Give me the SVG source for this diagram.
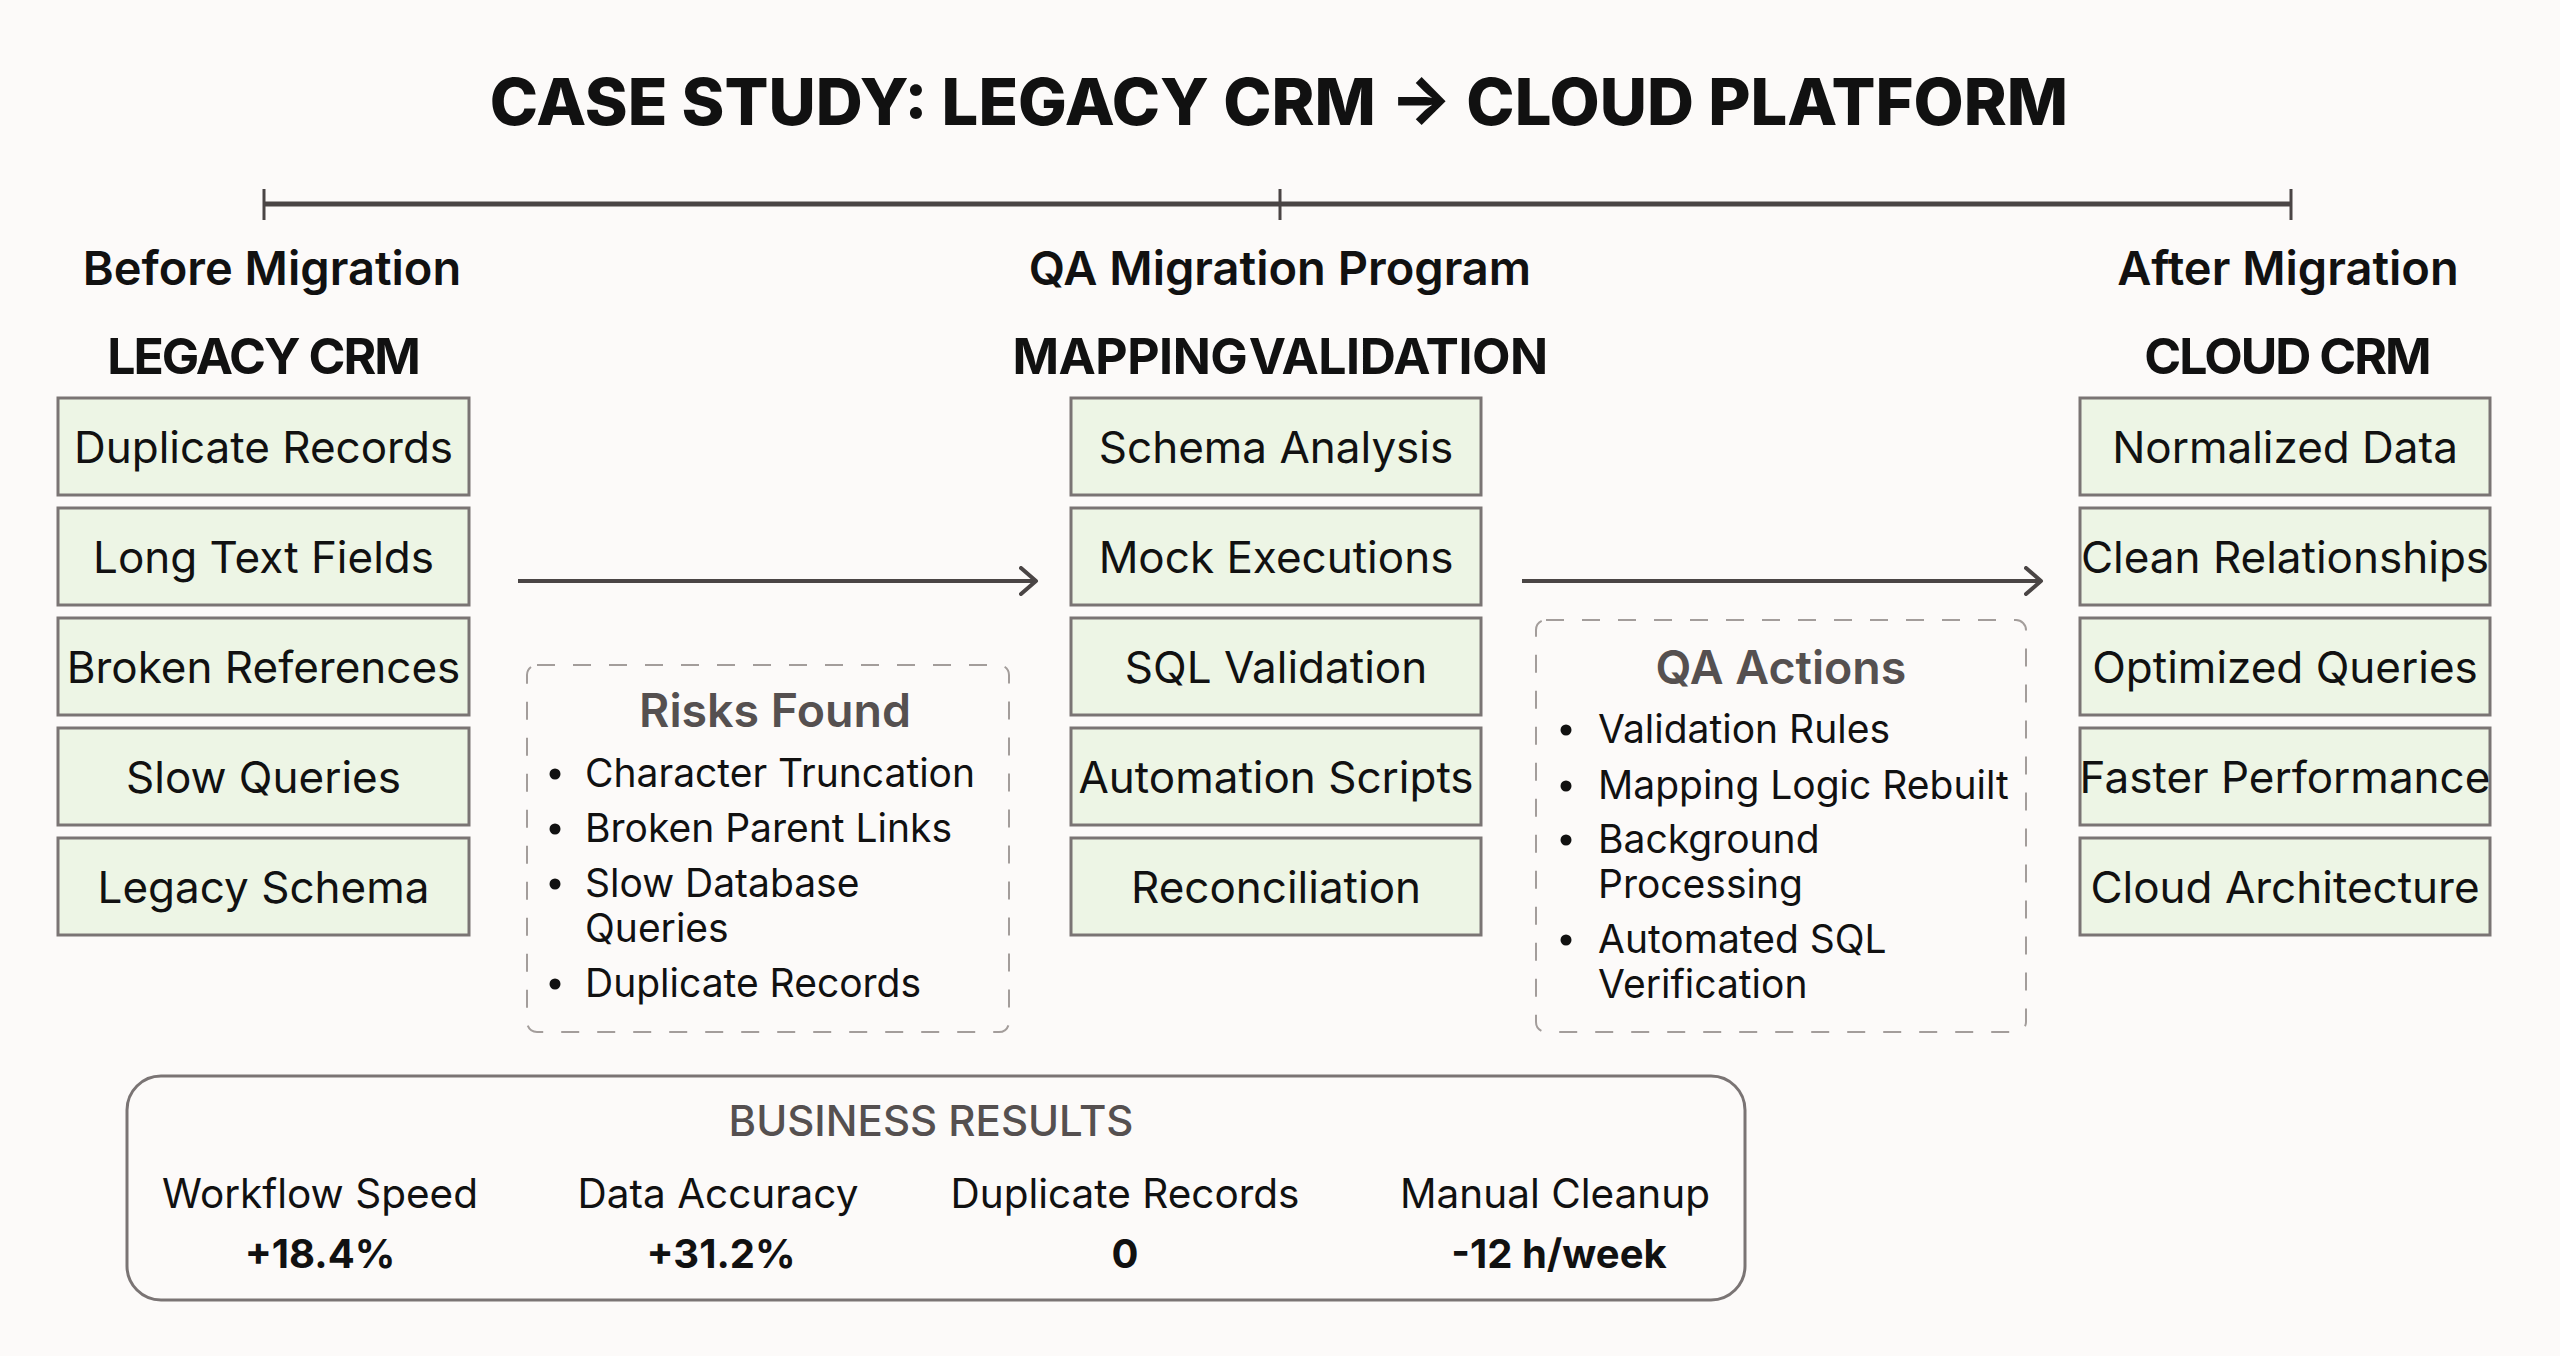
<svg xmlns="http://www.w3.org/2000/svg" width="2560" height="1356" viewBox="0 0 2560 1356">
<defs>
<style>
text{font-family:Inter,"Noto Sans","Liberation Sans",sans-serif;fill:#111;}
.title{font-size:65px;font-weight:800;text-anchor:middle;}
.phase{font-size:47px;font-weight:600;text-anchor:middle;}
.head{font-size:50px;font-weight:700;text-anchor:middle;letter-spacing:-2px;}
.box{fill:#edf5e5;stroke:#7a7474;stroke-width:3;}
.bt{font-size:44px;text-anchor:middle;}
.dash{fill:none;stroke:#a39d9b;stroke-width:2;stroke-dasharray:18 18;}
.nt{font-size:46.5px;font-weight:600;fill:#555050;text-anchor:middle;}
.li{font-size:39px;}
.dot{fill:#111;}
.conn{stroke:#4a4545;stroke-width:4;fill:none;}
.tl{stroke:#4a4545;stroke-width:5;}
.tick{stroke:#4a4545;stroke-width:3;}
.res{fill:none;stroke:#7a7474;stroke-width:3;}
.rt{font-size:42px;font-weight:500;fill:#555050;text-anchor:middle;}
.rl{font-size:40.5px;text-anchor:middle;}
.rv{font-size:40px;font-weight:700;text-anchor:middle;}
</style>
<marker id="arr" viewBox="0 0 20 30" refX="17" refY="15" markerWidth="20" markerHeight="30" markerUnits="userSpaceOnUse" orient="auto">
<path d="M2,2 L17,15 L2,28" fill="none" stroke="#4a4545" stroke-width="4" stroke-linecap="round" stroke-linejoin="round"/>
</marker>
</defs>
<rect width="2560" height="1356" fill="#fcfaf9"/>
<text class="title" x="1279" y="125">CASE STUDY: LEGACY CRM → CLOUD PLATFORM</text>

<g id="timeline">
<line class="tl" x1="264" y1="204" x2="2291" y2="204"/>
<line class="tick" x1="264" y1="189" x2="264" y2="220"/>
<line class="tick" x1="1280" y1="189" x2="1280" y2="220"/>
<line class="tick" x1="2291" y1="189" x2="2291" y2="220"/>
</g>

<g id="legacy">
<text class="phase" x="272" y="285">Before Migration</text>
<text class="head" x="263" y="374">LEGACY CRM</text>
<rect class="box" x="58" y="398" width="411" height="97"/>
<text class="bt" x="263.5" y="463">Duplicate Records</text>
<rect class="box" x="58" y="508" width="411" height="97"/>
<text class="bt" x="263.5" y="573">Long Text Fields</text>
<rect class="box" x="58" y="618" width="411" height="97"/>
<text class="bt" x="263.5" y="683">Broken References</text>
<rect class="box" x="58" y="728" width="411" height="97"/>
<text class="bt" x="263.5" y="793">Slow Queries</text>
<rect class="box" x="58" y="838" width="411" height="97"/>
<text class="bt" x="263.5" y="903">Legacy Schema</text>
</g>

<g id="mapping">
<text class="phase" x="1280" y="285">QA Migration Program</text>
<text class="head" x="1280" y="374" style="letter-spacing:-0.5px;word-spacing:-10px">MAPPING VALIDATION</text>
<rect class="box" x="1071" y="398" width="410" height="97"/>
<text class="bt" x="1276" y="463">Schema Analysis</text>
<rect class="box" x="1071" y="508" width="410" height="97"/>
<text class="bt" x="1276" y="573">Mock Executions</text>
<rect class="box" x="1071" y="618" width="410" height="97"/>
<text class="bt" x="1276" y="683">SQL Validation</text>
<rect class="box" x="1071" y="728" width="410" height="97"/>
<text class="bt" x="1276" y="793">Automation Scripts</text>
<rect class="box" x="1071" y="838" width="410" height="97"/>
<text class="bt" x="1276" y="903">Reconciliation</text>
</g>

<g id="cloud">
<text class="phase" x="2288" y="285">After Migration</text>
<text class="head" x="2287" y="374">CLOUD CRM</text>
<rect class="box" x="2080" y="398" width="410" height="97"/>
<text class="bt" x="2285" y="463">Normalized Data</text>
<rect class="box" x="2080" y="508" width="410" height="97"/>
<text class="bt" x="2285" y="573">Clean Relationships</text>
<rect class="box" x="2080" y="618" width="410" height="97"/>
<text class="bt" x="2285" y="683">Optimized Queries</text>
<rect class="box" x="2080" y="728" width="410" height="97"/>
<text class="bt" x="2285" y="793">Faster Performance</text>
<rect class="box" x="2080" y="838" width="410" height="97"/>
<text class="bt" x="2285" y="903">Cloud Architecture</text>
</g>

<g id="connectors">
<line class="conn" x1="518" y1="581" x2="1036" y2="581" marker-end="url(#arr)"/>
<line class="conn" x1="1522" y1="581" x2="2041" y2="581" marker-end="url(#arr)"/>
</g>

<g id="risks">
<rect class="dash" x="527" y="665" width="482" height="367" rx="10"/>
<text class="nt" x="775" y="727">Risks Found</text>
<circle class="dot" cx="555" cy="774" r="5.5"/>
<text class="li" x="585" y="787">Character Truncation</text>
<circle class="dot" cx="555" cy="829" r="5.5"/>
<text class="li" x="585" y="842">Broken Parent Links</text>
<circle class="dot" cx="555" cy="884" r="5.5"/>
<text class="li" x="585" y="897">Slow Database</text>
<text class="li" x="585" y="942">Queries</text>
<circle class="dot" cx="555" cy="984" r="5.5"/>
<text class="li" x="585" y="997">Duplicate Records</text>
</g>

<g id="qa-actions">
<rect class="dash" x="1536" y="620" width="490" height="412" rx="10"/>
<text class="nt" x="1781" y="684">QA Actions</text>
<circle class="dot" cx="1566" cy="730" r="5.5"/>
<text class="li" x="1598" y="743">Validation Rules</text>
<circle class="dot" cx="1566" cy="786" r="5.5"/>
<text class="li" x="1598" y="799">Mapping Logic Rebuilt</text>
<circle class="dot" cx="1566" cy="840" r="5.5"/>
<text class="li" x="1598" y="853">Background</text>
<text class="li" x="1598" y="898">Processing</text>
<circle class="dot" cx="1566" cy="940" r="5.5"/>
<text class="li" x="1598" y="953">Automated SQL</text>
<text class="li" x="1598" y="998">Verification</text>
</g>

<g id="results">
<rect class="res" x="127" y="1076" width="1618" height="224" rx="34"/>
<text class="rt" x="931" y="1136">BUSINESS RESULTS</text>
<text class="rl" x="320" y="1208">Workflow Speed</text>
<text class="rv" x="320" y="1268">+18.4%</text>
<text class="rl" x="718" y="1208">Data Accuracy</text>
<text class="rv" x="721" y="1268">+31.2%</text>
<text class="rl" x="1125" y="1208">Duplicate Records</text>
<text class="rv" x="1125" y="1268">0</text>
<text class="rl" x="1555" y="1208">Manual Cleanup</text>
<text class="rv" x="1559" y="1268">-12 h/week</text>
</g>
</svg>
